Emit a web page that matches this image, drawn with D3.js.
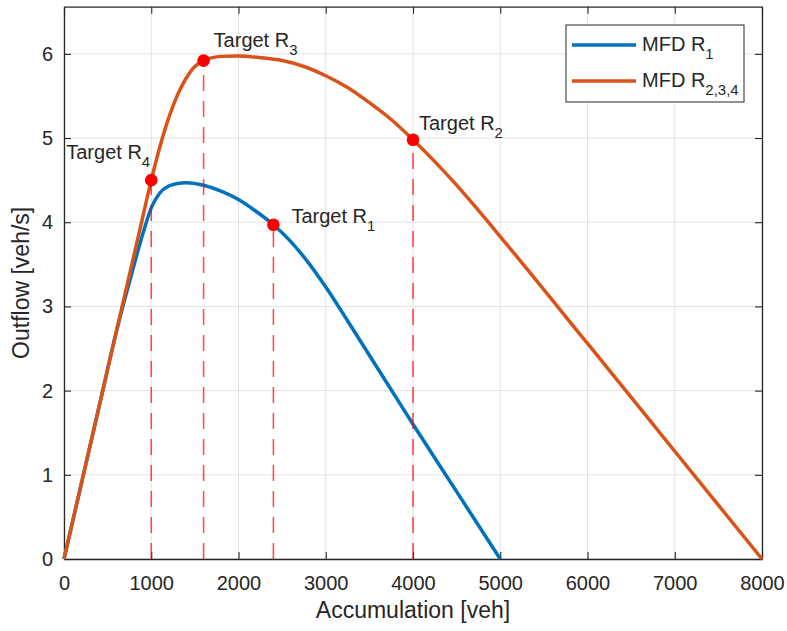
<!DOCTYPE html>
<html>
<head>
<meta charset="utf-8">
<script src="https://cdn.jsdelivr.net/npm/d3@7"></script>
<style>
  body { margin: 0; background: #fff; }
  text { font-family: "Liberation Sans", Arial, Helvetica, sans-serif; fill: #262626; }
</style>
</head>
<body>
<div id="chart"></div>
<script>
// MFD of region 1
const accumR1 = [0, 200, 400, 600, 700, 800, 900, 1000, 1100, 1200, 1300, 1400, 1600, 1800, 2000, 2200, 2400, 2600, 2800, 3000, 3250, 3500, 3750, 4000, 4500, 5000];
const outflowR1 = [0, 0.9, 1.8, 2.7, 3.1, 3.48, 3.85, 4.17, 4.35, 4.43, 4.46, 4.47, 4.44, 4.37, 4.27, 4.13, 3.97, 3.77, 3.52, 3.23, 2.83, 2.42, 2.01, 1.6, 0.8, 0];

// MFD of regions 2,3,4
const accumR234 = [0, 500, 900, 1000, 1100, 1200, 1300, 1400, 1500, 1600, 1700, 1800, 2000, 2250, 2500, 2750, 3000, 3250, 3500, 3750, 4000, 4250, 4500, 4750, 5000, 6000, 7000, 8000];
const outflowR234 = [0, 2.25, 4.05, 4.5, 4.9, 5.24, 5.51, 5.71, 5.85, 5.92, 5.955, 5.97, 5.975, 5.955, 5.92, 5.85, 5.74, 5.6, 5.42, 5.22, 4.98, 4.72, 4.44, 4.14, 3.83, 2.56, 1.28, 0];

// target points
const targetSub = ['1', '2', '3', '4'];
const targetAccum = [2400, 4000, 1600, 1000];
const targetOutflow = [3.97, 4.98, 5.92, 4.5];

const seriesNames = ['MFD R', 'MFD R'];
const seriesSubs = ['1', '2,3,4'];
const seriesColors = ['#0072BD', '#D95319'];

const xTicks = [0, 1000, 2000, 3000, 4000, 5000, 6000, 7000, 8000];
const yTicks = [0, 1, 2, 3, 4, 5, 6];

let width = 787, height = 631;
const margin = { left: 64, right: 25, top: 6.7, bottom: 72 };
const pw = width - margin.left - margin.right;
const ph = height - margin.top - margin.bottom;

const x = d3.scaleLinear().domain([0, 8000]).range([0, pw]);
const y = d3.scaleLinear().domain([0, 6.56]).range([ph, 0]);

const svg = d3.select('#chart').append('svg')
    .attr('width', width)
    .attr('height', height);

const g = svg.append('g')
    .attr('transform', `translate(${margin.left},${margin.top})`);

// grid
g.selectAll('.gx').data(xTicks).enter().append('line')
    .attr('x1', d => x(d)).attr('x2', d => x(d))
    .attr('y1', 0).attr('y2', ph)
    .attr('stroke', '#e3e3e3').attr('stroke-width', 1);
g.selectAll('.gy').data(yTicks).enter().append('line')
    .attr('x1', 0).attr('x2', pw)
    .attr('y1', d => y(d)).attr('y2', d => y(d))
    .attr('stroke', '#e3e3e3').attr('stroke-width', 1);

// axes with inward ticks, MATLAB style box
const tickLen = 7;
const xAxis = g.append('g').attr('transform', `translate(0,${ph})`)
    .call(d3.axisBottom(x).tickValues(xTicks).tickSizeInner(-tickLen).tickSizeOuter(0).tickPadding(17).tickFormat(d3.format('d')));
const xAxisTop = g.append('g')
    .call(d3.axisTop(x).tickValues(xTicks).tickSizeInner(-tickLen).tickSizeOuter(0).tickFormat(''));
const yAxis = g.append('g')
    .call(d3.axisLeft(y).tickValues(yTicks).tickSizeInner(-tickLen).tickSizeOuter(0).tickPadding(11).tickFormat(d3.format('d')));
const yAxisRight = g.append('g').attr('transform', `translate(${pw},0)`)
    .call(d3.axisRight(y).tickValues(yTicks).tickSizeInner(-tickLen).tickSizeOuter(0).tickFormat(''));

[xAxis, xAxisTop, yAxis, yAxisRight].forEach(a => {
    a.select('.domain').attr('stroke', '#262626').attr('stroke-width', 1.3);
    a.selectAll('.tick line').attr('stroke', '#262626').attr('stroke-width', 1.1);
    a.selectAll('.tick text').style('font-size', '20px').attr('fill', '#262626');
});

// curves
const line = d3.line()
    .x(d => x(d[0]))
    .y(d => y(d[1]))
    .curve(d3.curveMonotoneX);

const curves = [
    d3.zip(accumR1, outflowR1),
    d3.zip(accumR234, outflowR234)
];

g.selectAll('.mfd').data(curves).enter().append('path')
    .attr('class', 'mfd')
    .attr('d', line)
    .attr('fill', 'none')
    .attr('stroke', (d, i) => seriesColors[i])
    .attr('stroke-width', 3.5)
    .attr('stroke-linejoin', 'round');

// dashed drop lines and target dots
const targets = targetSub.map((s, i) => ({ s, a: targetAccum[i], o: targetOutflow[i] }));

g.selectAll('.drop').data(targets).enter().append('line')
    .attr('x1', d => x(d.a)).attr('x2', d => x(d.a))
    .attr('y1', ph).attr('y2', d => y(d.o))
    .attr('stroke', '#ff0000')
    .attr('stroke-opacity', 0.7)
    .attr('stroke-width', 1.6)
    .attr('stroke-dasharray', '16,10');

g.selectAll('.dot').data(targets).enter().append('circle')
    .attr('cx', d => x(d.a))
    .attr('cy', d => y(d.o))
    .attr('r', 6.3)
    .attr('fill', '#ff0000');

// labels next to the targets, offset in pixels
const labelOffset = [[18, -2], [6, -10], [10, -14], [-85, -21]];
const labels = g.selectAll('.tlabel').data(targets).enter().append('text')
    .attr('x', (d, i) => x(d.a) + labelOffset[i][0])
    .attr('y', (d, i) => y(d.o) + labelOffset[i][1])
    .style('font-size', '20px')
    .attr('fill', '#000');
labels.append('tspan').text('Target R');
labels.append('tspan').attr('dy', 8).style('font-size', '15px').text(d => d.s);

// axis labels
svg.append('text')
    .attr('x', margin.left + pw / 2)
    .attr('y', 618)
    .attr('text-anchor', 'middle')
    .style('font-size', '23px')
    .text('Accumulation [veh]');

svg.append('text')
    .attr('transform', `translate(29,${margin.top + ph / 2}) rotate(-90)`)
    .attr('text-anchor', 'middle')
    .style('font-size', '23px')
    .text('Outflow [veh/s]');

// legend
const legend = svg.append('g').attr('transform', 'translate(566,25)');
legend.append('rect')
    .attr('width', 178).attr('height', 77)
    .attr('fill', '#fff')
    .attr('stroke', '#262626').attr('stroke-width', 1);

const entries = legend.selectAll('.entry').data(seriesNames).enter().append('g')
    .attr('transform', (d, i) => `translate(0,${20 + i * 36})`);
entries.append('line')
    .attr('x1', 6).attr('x2', 70)
    .attr('stroke', (d, i) => seriesColors[i])
    .attr('stroke-width', 3.5);
const lt = entries.append('text')
    .attr('x', 76).attr('y', 6)
    .style('font-size', '20px')
    .attr('fill', '#000');
lt.append('tspan').text(d => d);
lt.append('tspan').attr('dy', 8).style('font-size', '15px').text((d, i) => seriesSubs[i]);
</script>
</body>
</html>
